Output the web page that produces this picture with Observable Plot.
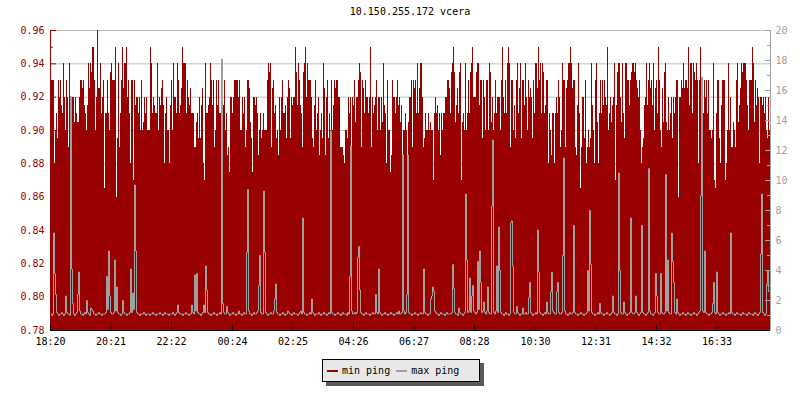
<!DOCTYPE html>
<html>
<head>
<meta charset="utf-8">
<script src="https://cdn.jsdelivr.net/npm/d3@7"></script>
<script src="https://cdn.jsdelivr.net/npm/@observablehq/plot@0.6"></script>
<style>
  body { margin: 0; background: #fff; }
  #wrap { position: relative; width: 800px; height: 400px; background: #fff; font-family: "DejaVu Sans Mono", monospace; font-size: 10px; }
  #title { position: absolute; top: 6px; left: 0; width: 820px; text-align: center; color: #000; }
  #legend { position: absolute; left: 322px; top: 359px; width: 152px; height: 21px; background: #e8e8e8; border: 1px solid #000; box-shadow: 4px 4px 0 #5a5a5a; display: flex; align-items: center; padding-left: 4px; box-sizing: content-box; }
  .sw { display: inline-block; width: 11px; height: 2px; margin-right: 4px; }
  .lab { margin-right: 6px; }
</style>
</head>
<body>
<div id="wrap">
  <div id="title">10.150.255.172 vcera</div>
  <div id="chart"></div>
  <div id="legend"><span class="sw" style="background:#990000"></span><span class="lab">min ping</span><span class="sw" style="background:#a0a0a0"></span><span class="lab">max ping</span></div>
</div>
<script>
// min ping (left axis), one sample every 2 minutes starting 18:20
const minPing = [
.94,.93,.93,.93,.88,.90,.91,.895,.93,.92,
.93,.915,.91,.94,.92,.90,.93,.92,.89,.94,
.915,.92,.92,.92,.905,.92,.91,.905,.905,.92,
.93,.93,.925,.93,.915,.91,.90,.915,.94,.925,
.94,.935,.95,.95,.93,.90,.92,.96,.925,.925,
.94,.91,.92,.93,.865,.91,.91,.93,.91,.90,
.935,.94,.93,.93,.93,.95,.86,.895,.94,.89,
.91,.93,.95,.925,.94,.94,.95,.92,.93,.91,
.88,.93,.93,.87,.93,.915,.92,.92,.91,.92,
.90,.93,.90,.905,.92,.91,.92,.90,.90,.90,
.95,.94,.91,.92,.915,.91,.91,.94,.90,.92,
.915,.925,.93,.915,.88,.91,.92,.90,.90,.88,
.915,.93,.90,.94,.92,.92,.91,.94,.93,.91,
.915,.925,.95,.94,.94,.94,.91,.93,.92,.915,
.925,.91,.91,.91,.89,.89,.905,.91,.895,.92,
.895,.915,.925,.88,.87,.94,.91,.91,.915,.92,
.94,.93,.915,.93,.89,.90,.93,.915,.93,.91,
.91,.91,.915,.915,.93,.90,.91,.885,.89,.875,
.92,.92,.91,.92,.93,.93,.93,.93,.92,.93,
.90,.90,.92,.91,.92,.89,.90,.93,.93,.925,
.905,.895,.875,.92,.92,.915,.92,.91,.885,.90,
.91,.895,.90,.91,.90,.90,.90,.93,.94,.935,
.94,.89,.925,.93,.91,.915,.895,.90,.885,.92,
.90,.92,.93,.91,.91,.915,.895,.92,.93,.925,
.895,.92,.915,.92,.92,.95,.935,.915,.94,.93,
.915,.91,.89,.935,.94,.95,.92,.94,.93,.93,
.93,.92,.895,.89,.915,.93,.90,.91,.92,.885,
.90,.91,.895,.94,.925,.885,.92,.93,.895,.91,
.90,.93,.90,.915,.93,.925,.93,.93,.92,.92,
.89,.89,.89,.885,.88,.90,.90,.895,.92,.91,
.92,.89,.92,.915,.93,.905,.92,.92,.93,.94,
.935,.89,.93,.925,.91,.93,.92,.92,.91,.92,
.95,.89,.92,.91,.915,.92,.93,.90,.92,.92,
.90,.92,.905,.94,.915,.91,.88,.93,.90,.90,
.875,.885,.93,.92,.92,.91,.92,.93,.915,.92,
.905,.915,.885,.90,.90,.91,.90,.88,.905,.92,
.92,.93,.89,.93,.925,.93,.91,.94,.91,.925,
.94,.94,.92,.89,.895,.91,.90,.90,.91,.90,
.905,.90,.90,.87,.91,.92,.91,.915,.90,.91,
.885,.91,.90,.91,.91,.92,.92,.93,.93,.925,
.91,.935,.94,.95,.935,.905,.915,.925,.91,.935,
.94,.87,.905,.91,.90,.94,.90,.91,.93,.91,
.935,.94,.95,.92,.92,.92,.935,.94,.94,.915,
.93,.93,.895,.93,.92,.90,.93,.93,.90,.94,
.935,.905,.92,.90,.91,.93,.91,.92,.92,.92,
.90,.93,.95,.92,.91,.93,.91,.94,.95,.94,
.89,.93,.93,.90,.915,.895,.93,.94,.91,.925,
.94,.895,.93,.93,.915,.94,.92,.90,.93,.92,
.925,.92,.895,.93,.91,.94,.94,.925,.95,.93,
.94,.91,.94,.935,.91,.915,.93,.93,.88,.91,
.90,.885,.91,.91,.88,.91,.92,.91,.93,.92,
.89,.90,.94,.93,.93,.89,.925,.93,.94,.94,
.95,.94,.925,.93,.93,.89,.885,.915,.94,.91,
.865,.89,.92,.92,.895,.93,.88,.89,.90,.89,
.895,.94,.915,.90,.88,.93,.94,.905,.88,.91,
.93,.91,.93,.915,.93,.92,.915,.95,.90,.91,
.92,.905,.915,.92,.94,.87,.915,.935,.94,.94,
.92,.905,.94,.91,.895,.94,.94,.93,.93,.915,
.93,.935,.94,.94,.935,.94,.93,.925,.92,.93,
.90,.88,.89,.895,.915,.92,.94,.915,.93,.94,
.925,.93,.915,.94,.90,.925,.93,.91,.95,.93,
.90,.89,.925,.905,.935,.94,.905,.90,.92,.90,
.91,.92,.895,.92,.91,.92,.93,.93,.86,.92,
.92,.93,.925,.94,.925,.93,.93,.925,.95,.915,
.94,.94,.91,.94,.935,.93,.94,.93,.88,.93,
.95,.93,.93,.91,.93,.92,.93,.91,.93,.90,
.90,.895,.90,.94,.87,.865,.91,.93,.93,.895,
.88,.915,.93,.93,.93,.87,.88,.90,.94,.90,
.92,.89,.89,.905,.90,.89,.93,.94,.905,.915,
.925,.94,.935,.94,.94,.94,.93,.915,.90,.93,
.93,.93,.95,.94,.905,.93,.915,.925,.92,.88,
.92,.92,.915,.92,.91,.92,.90,.895,.92,.90
];

// max ping (right axis), same sampling
const maxPing = [
1.1,1.0,1.1,6.5,3.8,2.4,1.2,1.1,1.0,1.1,1.1,1.2,1.1,1.0,1.1,2.3,1.2,1.1,1.1,1.0,
15.6,4.1,1.8,1.1,1.0,1.1,1.2,2.4,3.9,1.3,1.1,1.1,1.0,1.1,1.2,1.1,2.0,1.2,1.1,1.0,
1.5,1.4,1.3,1.1,1.1,1.0,1.1,1.1,1.2,1.1,1.1,1.0,1.1,1.1,1.1,1.2,3.6,1.4,5.3,2.3,
1.2,1.1,1.1,1.2,4.7,1.3,2.9,1.2,1.1,1.1,1.0,1.1,2.0,1.2,1.1,1.1,1.0,1.1,1.1,1.2,
4.1,1.2,2.5,1.4,9.7,5.3,1.2,1.1,1.1,1.0,1.1,1.1,1.1,1.2,1.1,1.0,1.1,1.1,1.1,1.0,
1.1,1.1,1.2,1.1,1.1,1.0,1.1,1.1,1.1,1.2,1.1,1.1,1.0,1.1,1.2,1.1,1.1,1.1,1.0,1.1,
1.1,1.1,1.2,1.1,1.0,1.1,1.2,1.7,1.2,1.1,1.1,1.1,1.0,1.1,1.1,1.2,1.1,1.1,1.0,1.1,
1.1,1.7,1.2,1.1,3.7,1.3,3.8,1.2,1.1,1.1,1.0,1.1,1.2,1.7,1.2,4.3,2.7,1.2,1.1,1.1,
1.0,1.1,1.1,1.2,1.1,1.1,1.0,1.1,1.1,1.2,1.1,18.1,1.8,1.2,1.1,1.1,1.6,1.2,1.1,1.0,
1.1,1.1,1.2,1.1,1.1,1.0,1.1,1.1,1.3,1.1,1.1,1.0,1.1,1.2,1.1,1.1,5.2,9.4,1.3,1.1,
1.1,1.0,1.1,1.2,1.1,1.1,1.2,1.3,3.0,5.0,1.2,1.1,1.1,9.3,5.2,1.2,1.1,1.0,1.1,1.1,
1.2,1.1,1.1,1.3,2.1,3.1,1.2,1.1,1.1,1.0,1.1,1.1,1.2,1.1,1.0,1.1,1.1,1.3,1.2,1.1,
1.1,1.0,1.1,1.2,1.1,1.1,1.1,1.0,1.1,1.2,1.3,1.1,7.5,1.2,1.1,1.1,1.0,1.1,1.1,1.2,
1.1,2.1,1.2,1.1,1.0,1.1,1.1,1.1,1.2,1.1,1.0,1.1,1.1,1.2,1.1,1.1,1.0,1.1,1.2,1.1,
13.3,1.2,1.1,1.1,1.0,1.1,1.1,1.2,1.1,1.1,1.0,1.1,1.2,1.1,1.1,1.1,1.0,1.2,1.1,3.6,
12.3,1.3,1.1,1.1,1.2,1.1,1.2,4.9,5.6,2.7,1.2,1.1,1.1,1.0,1.1,1.2,1.1,1.1,1.1,1.0,
1.1,1.1,1.2,1.1,1.1,2.4,1.2,1.1,4.1,1.2,1.1,1.0,1.1,1.1,1.2,1.1,1.1,1.0,1.1,1.1,
1.2,1.1,1.1,1.0,1.1,1.1,1.2,1.1,1.3,1.1,1.1,1.2,11.7,1.3,1.1,1.2,2.4,11.7,1.2,1.1,
1.1,1.0,1.1,1.1,1.2,1.1,1.1,1.0,1.1,1.1,1.2,1.1,1.1,4.1,1.2,1.1,1.1,1.0,1.1,1.1,
2.1,2.3,2.9,2.6,1.3,1.2,1.1,1.1,1.0,1.1,1.2,1.1,1.1,1.1,1.0,1.1,1.2,1.1,1.1,1.1,
1.1,1.2,4.4,2.8,1.2,1.1,1.1,1.0,1.5,1.2,1.1,1.1,1.0,1.1,1.2,9.1,4.7,1.2,1.3,3.5,
1.2,2.3,3.0,1.3,1.2,1.1,1.2,4.6,1.4,5.3,3.2,1.2,1.3,1.9,1.2,1.1,1.3,2.9,1.2,1.1,
1.1,8.3,12.7,1.2,1.1,1.3,4.3,1.2,6.9,4.0,1.2,1.1,1.1,1.0,1.1,1.2,1.1,1.1,1.0,1.1,
7.2,7.3,4.3,1.2,1.1,1.1,1.6,1.2,1.1,1.0,1.1,1.1,1.5,1.1,1.1,1.2,1.1,1.1,2.2,3.2,
1.2,1.1,1.0,1.1,1.1,1.2,1.1,6.7,3.9,1.2,1.1,1.1,1.0,1.1,1.2,1.1,1.9,1.2,1.1,1.1,
2.6,3.9,1.3,1.2,1.1,1.1,2.6,3.2,1.2,1.1,1.1,1.2,5.0,11.5,1.3,1.1,1.1,1.0,1.1,1.2,
1.1,1.1,1.2,7.0,1.2,1.1,1.1,1.0,1.1,1.1,1.2,1.1,1.1,1.0,1.1,1.1,1.2,4.0,1.3,8.0,
4.4,1.2,1.1,1.1,1.0,1.1,1.1,1.2,1.1,1.8,1.2,1.1,1.1,1.0,1.1,1.1,1.2,1.1,1.1,1.0,
1.1,1.2,2.3,1.2,1.1,1.1,1.0,1.1,10.5,4.0,1.2,1.1,1.1,1.9,1.2,1.1,1.0,1.1,1.1,1.2,
7.5,1.2,1.1,1.1,1.2,2.3,1.2,1.1,1.0,1.1,1.2,7.0,1.2,1.1,1.1,1.0,1.1,1.2,10.8,1.3,
1.1,1.1,1.0,1.1,1.2,3.8,2.3,1.2,1.1,1.1,3.8,1.2,1.1,1.1,1.2,10.4,1.3,4.7,1.2,1.1,
1.1,6.5,4.6,3.2,1.2,1.1,2.1,1.2,1.1,1.0,1.1,1.1,1.2,1.1,1.1,1.0,1.1,1.2,1.1,1.1,
1.0,1.1,1.1,1.2,1.1,1.1,1.0,1.1,1.2,1.3,9.0,16.9,1.3,1.2,5.3,1.2,1.1,1.1,1.0,1.1,
1.1,1.2,1.8,3.2,1.2,1.1,3.9,1.2,1.1,1.0,1.1,1.1,1.2,1.1,1.1,1.0,1.1,1.1,1.2,1.1,
6.5,1.2,1.1,1.1,1.0,1.1,1.2,1.1,1.1,1.1,1.0,1.1,1.2,1.1,1.1,1.1,1.0,1.1,1.2,1.1,
1.1,1.1,1.0,1.1,1.2,1.1,1.1,1.0,1.1,1.2,5.1,9.1,1.2,1.1,1.0,1.1,3.1,4.0,2.6,2.6
];

const timeTicks = [0, 121, 242, 364, 485, 606, 727, 848, 970, 1091, 1212, 1333];
const timeLabels = ["18:20","20:21","22:22","00:24","02:25","04:26","06:27","08:28","10:30","12:31","14:32","16:33"];
const leftTicks = [0.78, 0.80, 0.82, 0.84, 0.86, 0.88, 0.90, 0.92, 0.94, 0.96];
const leftMinor = [0.79, 0.81, 0.83, 0.85, 0.87, 0.89, 0.91, 0.93, 0.95];
const rightTicks = [0, 2, 4, 6, 8, 10, 12, 14, 16, 18, 20];
const rightMinor = [1, 3, 5, 7, 9, 11, 13, 15, 17, 19];

const Y0 = 0.78, Y1 = 0.96, R1 = 20, STEP = 2, SPAN = 1440;
const toLeft = v => Y0 + v * (Y1 - Y0) / R1;

const data = minPing.map((v, i) => ({t: i * STEP, min: v, max: maxPing[i]}));
data.push({t: SPAN, min: minPing[minPing.length - 1], max: maxPing[maxPing.length - 1]});

const labelOf = new Map(timeTicks.map((t, i) => [t, timeLabels[i]]));
const pxY = (Y1 - Y0) / 300; // one pixel in y units
const pxX = SPAN / 720;       // one pixel in x units

const chart = Plot.plot({
  width: 800,
  height: 360,
  marginLeft: 50,
  marginRight: 30,
  marginTop: 30,
  marginBottom: 30,
  style: {fontFamily: "DejaVu Sans Mono, monospace", fontSize: "10px", background: "transparent"},
  x: {type: "linear", domain: [0, SPAN], axis: null},
  y: {domain: [Y0, Y1], axis: null},
  marks: [
    Plot.ruleY(leftTicks.slice(1), {stroke: "#c0c0c0", strokeWidth: 1}),
    Plot.ruleY(leftTicks, {x1: 0, x2: 6 * pxX, stroke: "#990000"}),
    Plot.ruleY(leftMinor, {x1: 0, x2: 3 * pxX, stroke: "#990000"}),
    Plot.areaY(data, {x: "t", y1: Y0, y2: "min", curve: "step-after", fill: "#990000", shapeRendering: "crispEdges"}),
    Plot.line(data, {x: "t", y: d => toLeft(d.max), curve: "step-after", stroke: "#a0a0a0", strokeWidth: 1}),
    // left axis
    Plot.ruleX([0], {y1: Y0, y2: Y1, stroke: "#990000"}),
    Plot.axisY({anchor: "left", ticks: leftTicks, tickSize: 0, tickPadding: 6, tickFormat: d3.format(".2f"), color: "#990000", label: null}),
    // right axis
    Plot.ruleX([SPAN], {y1: Y0, y2: Y1, stroke: "#a0a0a0"}),
    Plot.ruleY(rightTicks.map(toLeft), {x1: SPAN - 5 * pxX, x2: SPAN, stroke: "#a0a0a0"}),
    Plot.ruleY(rightMinor.map(toLeft), {x1: SPAN - 3 * pxX, x2: SPAN, stroke: "#a0a0a0"}),
    Plot.axisY({anchor: "right", ticks: rightTicks.map(toLeft), tickSize: 0, tickPadding: 5, tickFormat: d => String(Math.round((d - Y0) * R1 / (Y1 - Y0))), color: "#a0a0a0", label: null}),
    // bottom axis
    Plot.ruleY([Y0], {stroke: "#000"}),
    Plot.ruleX(timeTicks, {y1: Y0, y2: Y0 + 5 * pxY, stroke: "#000"}),
    Plot.axisX({ticks: timeTicks, tickSize: 0, tickPadding: 7, tickFormat: d => labelOf.get(d), color: "#000", label: null})
  ]
});
document.getElementById("chart").appendChild(chart);
</script>
</body>
</html>
